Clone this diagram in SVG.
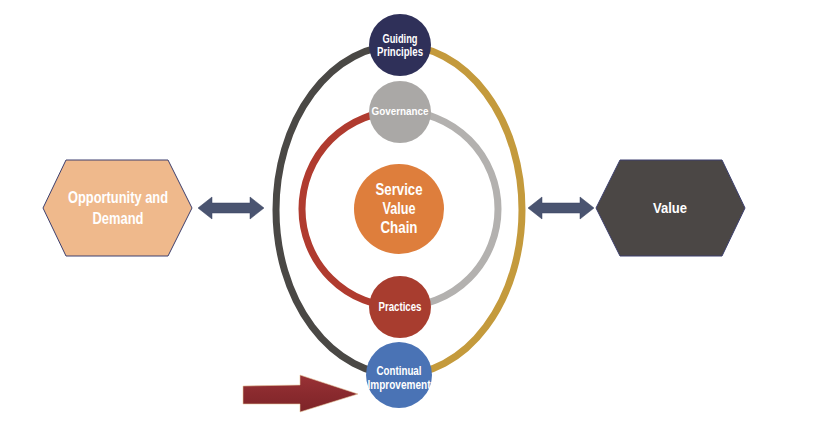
<svg xmlns="http://www.w3.org/2000/svg" width="826" height="422" viewBox="0 0 826 422">
<style>
.t{font-family:"Liberation Sans",Arial,sans-serif;font-weight:bold;fill:#fff;text-anchor:middle}
.arc{fill:none;stroke-width:7}
.hex{stroke:#3c3f6e;stroke-width:1}
.dbl{fill:#4a5470;stroke:#3a4260;stroke-width:0.5}
</style>
<defs>
<linearGradient id="rg" x1="0" y1="0" x2="0" y2="1">
<stop offset="0" stop-color="#9a3236"/>
<stop offset="0.5" stop-color="#8a2a2e"/>
<stop offset="1" stop-color="#7e2428"/>
</linearGradient>
</defs>
<rect width="826" height="422" fill="#fff"/>
<g id="connectors">
<path class="arc" stroke="#4a4845" d="M399,45 A123,165 0 0 0 399,375"/>
<path class="arc" stroke="#c49a3c" d="M399,45 A123,165 0 0 1 399,375"/>
<path class="arc" stroke="#b03b2f" d="M400,111 A98,98 0 0 0 400,307"/>
<path class="arc" stroke="#b3b1af" d="M400,111 A98,98 0 0 1 400,307"/>
<polygon class="dbl" points="198,208 212,197 212,203 250,203 250,197 264,208 250,219 250,213 212,213 212,219"/>
<polygon class="dbl" points="528,208 542,197 542,203 580,203 580,197 594,208 580,219 580,213 542,213 542,219"/>
<polygon fill="url(#rg)" stroke="#e8c9a0" stroke-width="0.6" points="243,386 300,385 300,375 358,394 300,412 300,404 243,404"/>
</g>
<g id="opportunity">
<polygon class="hex" fill="#efb98c" points="43,208 66,160 168,160 192,208 168,256 66,256"/>
<text class="t" x="118" y="203" font-size="16" textLength="100" lengthAdjust="spacingAndGlyphs">Opportunity and</text>
<text class="t" x="118" y="224" font-size="16" textLength="51" lengthAdjust="spacingAndGlyphs">Demand</text>
</g>
<g id="value">
<polygon class="hex" fill="#4b4745" points="596,208 620,160 722,160 745,208 722,256 620,256"/>
<text class="t" x="670" y="213" font-size="15" textLength="34" lengthAdjust="spacingAndGlyphs">Value</text>
</g>
<g id="guiding">
<circle cx="400" cy="45" r="31" fill="#2f3059"/>
<text class="t" x="400" y="43" font-size="12.5" textLength="35" lengthAdjust="spacingAndGlyphs">Guiding</text>
<text class="t" x="400" y="56" font-size="12.5" textLength="46" lengthAdjust="spacingAndGlyphs">Principles</text>
</g>
<g id="governance">
<circle cx="400" cy="112" r="31" fill="#aaa8a6"/>
<text class="t" x="400" y="114.5" font-size="11" textLength="57" lengthAdjust="spacingAndGlyphs">Governance</text>
</g>
<g id="svc">
<circle cx="399" cy="209" r="45" fill="#de7e3c"/>
<text class="t" x="399" y="194.5" font-size="16" textLength="47" lengthAdjust="spacingAndGlyphs">Service</text>
<text class="t" x="399" y="213.5" font-size="16" textLength="33" lengthAdjust="spacingAndGlyphs">Value</text>
<text class="t" x="399" y="232.5" font-size="16" textLength="37" lengthAdjust="spacingAndGlyphs">Chain</text>
</g>
<g id="practices">
<circle cx="400" cy="307" r="31" fill="#a83d2f"/>
<text class="t" x="400" y="311" font-size="12.5" textLength="43" lengthAdjust="spacingAndGlyphs">Practices</text>
</g>
<g id="continual">
<circle cx="399" cy="375" r="33" fill="#4a73b5"/>
<text class="t" x="399" y="375" font-size="13" textLength="45" lengthAdjust="spacingAndGlyphs">Continual</text>
<text class="t" x="399" y="389" font-size="13" textLength="63" lengthAdjust="spacingAndGlyphs">Improvement</text>
</g>
</svg>
